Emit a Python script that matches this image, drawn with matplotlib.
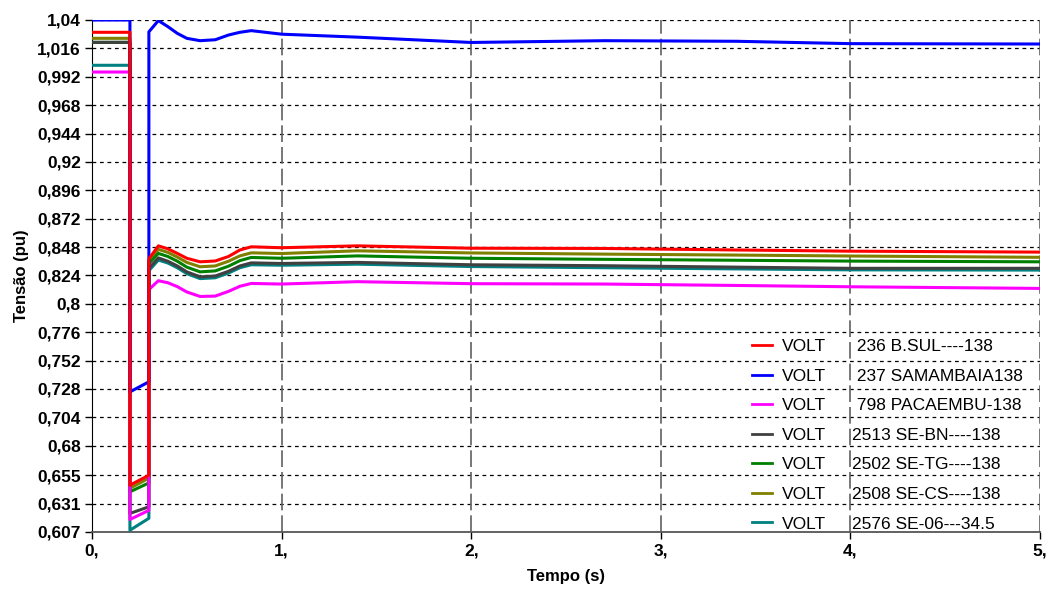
import matplotlib
matplotlib.use('Agg')
import matplotlib.pyplot as plt
import numpy as np

plt.rcParams['font.family'] = ['Liberation Sans', 'DejaVu Sans']

# time points (s); fault applied at 0.2 s and cleared at 0.3 s
t = [0, 0.2, 0.2, 0.3, 0.3, 0.35, 0.4, 0.45, 0.5, 0.57, 0.65, 0.72, 0.78, 0.84,
     1.0, 1.4, 2.0, 2.7, 3.4, 4.0, 5.0]

v_236 = [1.0296, 1.0296, 0.6466, 0.655, 0.838, 0.849, 0.8465, 0.8426, 0.8385, 0.8355, 0.8362, 0.840, 0.8455, 0.8482,
         0.8474, 0.849, 0.8470, 0.8468, 0.8455, 0.8445, 0.8437]
v_237 = [1.04, 1.04, 0.7255, 0.734, 1.030, 1.0395, 1.0344, 1.0287, 1.0245, 1.0225, 1.0233, 1.0273, 1.0296, 1.031,
         1.028, 1.0255, 1.021, 1.0225, 1.022, 1.020, 1.0197]
v_798 = [0.996, 0.996, 0.6176, 0.6253, 0.812, 0.8195, 0.8178, 0.8145, 0.810, 0.8062, 0.8065, 0.8105, 0.8148, 0.8172,
         0.8167, 0.8187, 0.817, 0.8167, 0.8155, 0.8144, 0.813]
v_2513 = [1.0211, 1.0211, 0.6227, 0.6283, 0.830, 0.8388, 0.836, 0.832, 0.827, 0.8228, 0.8235, 0.8275, 0.832, 0.8346,
          0.8341, 0.835, 0.833, 0.8322, 0.831, 0.830, 0.830]
v_2502 = [1.0211, 1.0211, 0.641, 0.6485, 0.834, 0.8426, 0.840, 0.836, 0.831, 0.827, 0.8278, 0.8318, 0.8365, 0.8392,
          0.8385, 0.8405, 0.8385, 0.8376, 0.8368, 0.8361, 0.8355]
v_2508 = [1.0245, 1.0245, 0.644, 0.6525, 0.836, 0.846, 0.8435, 0.8395, 0.835, 0.8313, 0.832, 0.836, 0.8405, 0.8431,
          0.8425, 0.8448, 0.843, 0.842, 0.8412, 0.8404, 0.8393]
v_2576 = [1.0017, 1.0017, 0.6085, 0.6186, 0.828, 0.837, 0.8345, 0.8305, 0.8255, 0.8213, 0.822, 0.826, 0.8305, 0.833,
          0.8326, 0.8335, 0.8315, 0.8305, 0.8295, 0.8287, 0.8285]

names = [' 236 B.SUL----138', ' 237 SAMAMBAIA138', ' 798 PACAEMBU-138',
         '2513 SE-BN----138', '2502 SE-TG----138', '2508 SE-CS----138', '2576 SE-06---34.5']
series = [v_236, v_237, v_798, v_2513, v_2502, v_2508, v_2576]
colors = ['#ff0000', '#0000ff', '#ff00ff', '#404040', '#008000', '#808000', '#008080']

yticks = [1.04, 1.016, 0.992, 0.968, 0.944, 0.92, 0.896, 0.872, 0.848, 0.824, 0.8,
          0.776, 0.752, 0.728, 0.704, 0.68, 0.655, 0.631, 0.607]
ylabels = ['1,04', '1,016', '0,992', '0,968', '0,944', '0,92', '0,896', '0,872', '0,848',
           '0,824', '0,8', '0,776', '0,752', '0,728', '0,704', '0,68', '0,655', '0,631', '0,607']
xticks = [0, 1, 2, 3, 4, 5]
xlabels = ['0,', '1,', '2,', '3,', '4,', '5,']

fig = plt.figure(figsize=(10.51, 5.93), dpi=100)
ax = fig.add_axes([92/1051, 1 - 532/593, (1040 - 92)/1051, (532 - 20)/593])

# draw so that red ends up on top, teal at the bottom
handles = [None] * len(series)
for i in reversed(range(len(series))):
    handles[i], = ax.plot(t, series[i], color=colors[i], lw=2.2, zorder=3 + (len(series) - i) * 0.1)

ax.set_xlim(0, 5)
ax.set_ylim(0.607, 1.04)
ax.set_yticks(yticks)
ax.set_yticklabels(ylabels, fontsize=12.5, fontweight='bold')
ax.set_xticks(xticks)
ax.set_xticklabels(xlabels, fontsize=12.5, fontweight='bold')
ax.tick_params(axis='both', direction='out', length=5, width=1, pad=3)

for y in yticks[:-1]:
    ax.axhline(y, color='black', lw=0.9, ls=(0, (3, 3)), zorder=1)
for x in xticks[1:]:
    ax.axvline(x, color='#606060', lw=1.2, ls=(0, (10, 3)), zorder=1)

for s in ['top', 'right']:
    ax.spines[s].set_visible(False)
ax.spines['left'].set_color('black')
ax.spines['bottom'].set_color('#555555')
ax.spines['bottom'].set_linewidth(1.3)

ax.set_xlabel('Tempo (s)', fontsize=12, fontweight='bold', labelpad=8)
ax.set_ylabel('Tensão (pu)', fontsize=12, fontweight='bold', labelpad=6)

leg = ax.legend(handles, ['VOLT'] * len(series), loc='upper left',
                bbox_to_anchor=((752 - 92) / 948, 1 - (339 - 20) / 512),
                frameon=False, fontsize=12.5, handlelength=1.15, handletextpad=0.6,
                labelspacing=0.83, borderpad=0.0, borderaxespad=0.0)
for ln in leg.get_lines():
    ln.set_linewidth(2.0)

# bus names, one per legend row, starting just right of the t=4 gridline
fig.canvas.draw()
inv = ax.transAxes.inverted()
for txt, name in zip(leg.get_texts(), names):
    bb = txt.get_window_extent()
    yc = inv.transform((0, (bb.y0 + bb.y1) / 2))[1]
    ax.text(4.01, yc, name, transform=ax.get_xaxis_transform(), fontsize=12.5,
            va='center', ha='left')

plt.savefig('out.png', dpi=100)
